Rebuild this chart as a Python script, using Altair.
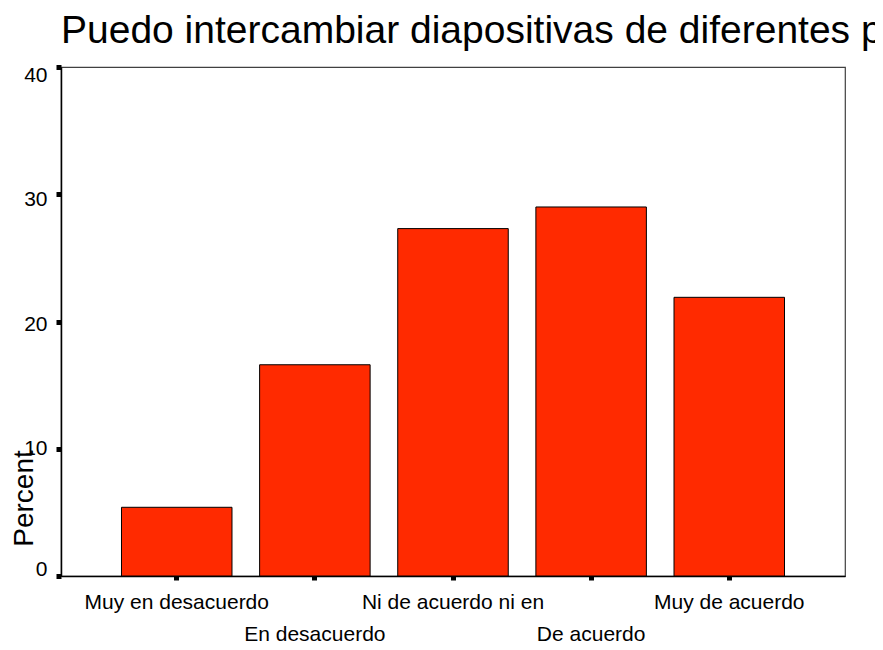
import altair as alt
import pandas as pd

categorias = ["Muy en desacuerdo", "En desacuerdo", "Ni de acuerdo ni en", "De acuerdo", "Muy de acuerdo"]
porcentajes = [5.4, 16.6, 27.3, 29.0, 21.9]
y_ticks = [0, 10, 20, 30, 40]
titulo = "Puedo intercambiar diapositivas de diferentes p"

df = pd.DataFrame({"cat": categorias, "pct": porcentajes})

FONT = "Liberation Sans"
cats_js = "[" + ",".join("'" + c + "'" for c in categorias) + "]"

bars = alt.Chart(df).mark_bar(
    color="#FF2A00", stroke="#000000", strokeWidth=1
).encode(
    x=alt.X(
        "cat:N",
        sort=categorias,
        scale=alt.Scale(paddingInner=0.2, paddingOuter=0.438),
        axis=alt.Axis(
            title=None,
            labelAngle=0,
            labelFont=FONT,
            labelFontSize=21,
            labelColor="#000000",
            labelBaseline="alphabetic",
            labelPadding=28,
            labelLineHeight=32,
            labelLimit=0,
            labelExpr=f"indexof({cats_js}, datum.value) % 2 == 1 ? ['', datum.label] : datum.label",
            labelOverlap=False,
            tickSize=4,
            tickWidth=5,
            tickColor="#000000",
            domainColor="#000000",
            domainWidth=1.5,
            grid=False,
        ),
    ),
    y=alt.Y(
        "pct:Q",
        scale=alt.Scale(domain=[0, 40], nice=False),
        axis=alt.Axis(
            values=y_ticks,
            title="Percent",
            titleFont=FONT,
            titleFontSize=28,
            titleFontWeight="normal",
            titleColor="#000000",
            titleAngle=270,
            titleAlign="center",
            titleBaseline="alphabetic",
            titleX=-29,
            titleY=431,
            labelFont=FONT,
            labelFontSize=21,
            labelColor="#000000",
            labelBaseline="middle",
            labelPadding=9,
            labelOffset={
                "condition": [
                    {"test": "datum.value == 0", "value": -7},
                    {"test": "datum.value == 10", "value": 0},
                    {"test": "datum.value == 20", "value": 3},
                    {"test": "datum.value == 30", "value": 5},
                ],
                "value": 8,
            },
            tickSize=5,
            tickWidth=5,
            tickColor="#000000",
            domainColor="#000000",
            domainWidth=1.5,
            grid=False,
        ),
    ),
)

chart = bars.properties(
    width=784,
    height=509,
    autosize=alt.AutoSizeParams(type="none"),
    padding={"left": 53, "top": 59, "right": 30, "bottom": 66},
    title=alt.TitleParams(
        text=titulo,
        anchor="start",
        font=FONT,
        fontSize=39,
        fontWeight="normal",
        color="#000000",
        baseline="bottom",
        offset=16,
        dy=42,
        frame="group",
    ),
).configure(background="#ffffff").configure_view(
    stroke="#404040", strokeWidth=1.2
)

chart.save("out.html", embed_options={"renderer": "svg", "actions": False})
